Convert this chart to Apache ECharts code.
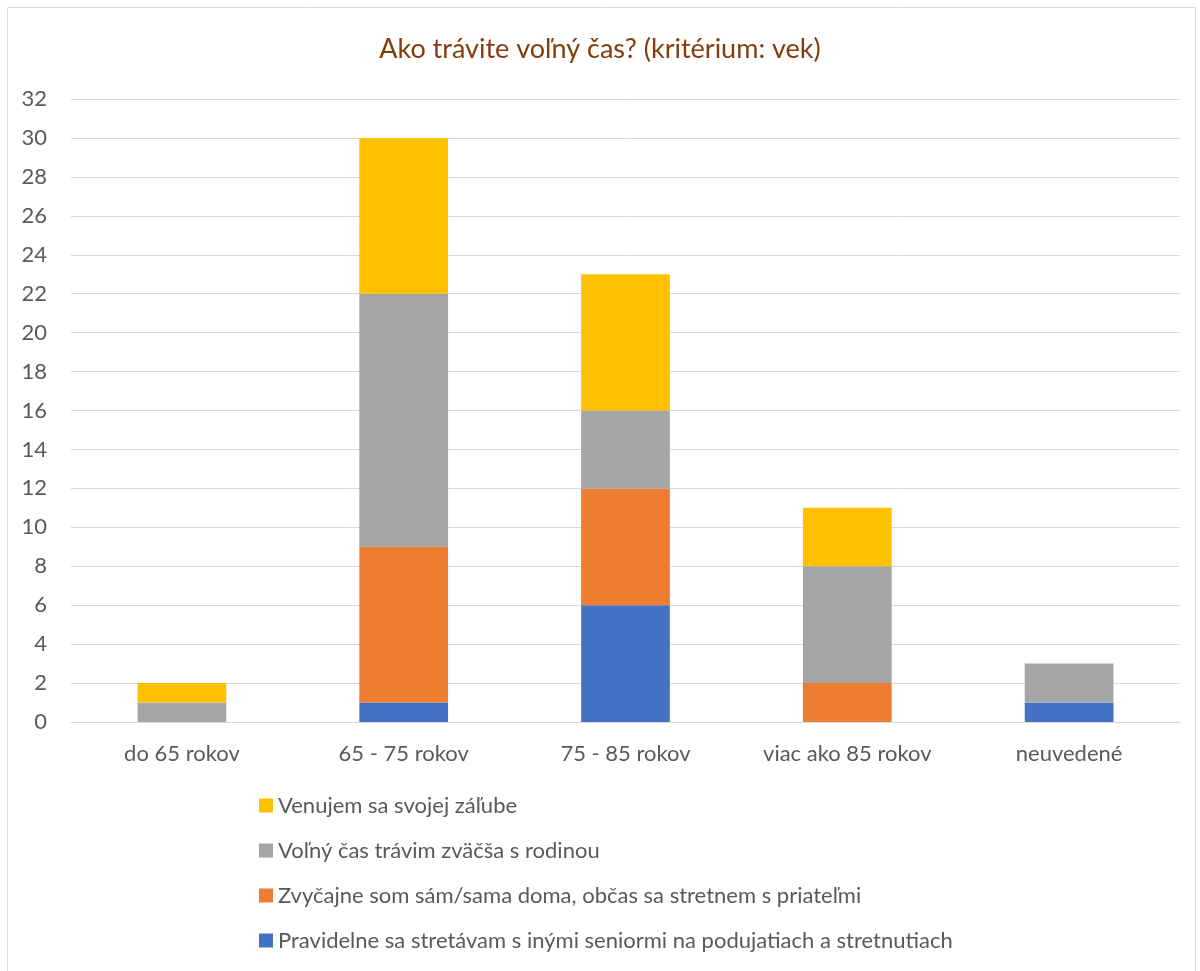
<!DOCTYPE html>
<html>
<head>
<meta charset="utf-8">
<script src="https://cdn.jsdelivr.net/npm/echarts@6/dist/echarts.min.js"></script>
<style>
  html, body { margin: 0; padding: 0; background: #fff; }
  #chart { width: 1200px; height: 971px; }
</style>
</head>
<body>
<div id="chart"></div>
<script>
var categories = ['do 65 rokov', '65 - 75 rokov', '75 - 85 rokov', 'viac ako 85 rokov', 'neuvedené']
var seriesNames = [
  'Pravidelne sa stretávam s inými seniormi na podujatiach a stretnutiach',
  'Zvyčajne som sám/sama doma, občas sa stretnem s priateľmi',
  'Voľný čas trávim zväčša s rodinou',
  'Venujem sa svojej záľube'
]
var blueVals = [0, 1, 6, 0, 1]
var orangeVals = [0, 8, 6, 2, 0]
var grayVals = [1, 13, 4, 6, 2]
var yellowVals = [1, 8, 7, 3, 0]
var colors = ['#4472C4', '#ED7D31', '#A5A5A5', '#FFC000']

var font = 'Lato'
var chart = echarts.init(document.getElementById('chart'))

function bar(name, data, color) {
  return {
    name: name,
    type: 'bar',
    stack: 'total',
    barWidth: '40%',
    data: data,
    itemStyle: { color: color }
  }
}

var option = {
  backgroundColor: '#fff',
  animation: false,
  graphic: [
    {
      type: 'rect',
      shape: { x: 7.5, y: 7.5, width: 1188, height: 980 },
      style: { fill: 'none', stroke: '#d9d9d9', lineWidth: 1 },
      silent: true
    }
  ],
  title: {
    text: 'Ako trávite voľný čas? (kritérium: vek)',
    left: 'center',
    top: 31,
    textStyle: { color: '#843C0C', fontFamily: font, fontSize: 27, fontWeight: 'normal' }
  },
  legend: {
    orient: 'vertical',
    left: 254,
    top: 788,
    itemWidth: 14,
    itemHeight: 14,
    itemGap: 20,
    icon: 'rect',
    data: [seriesNames[3], seriesNames[2], seriesNames[1], seriesNames[0]],
    textStyle: { color: '#595959', fontFamily: font, fontSize: 22, lineHeight: 25 }
  },
  grid: { left: 71, right: 20, top: 99, bottom: 249, containLabel: false },
  xAxis: {
    type: 'category',
    data: categories,
    axisLine: { show: true, lineStyle: { color: '#d9d9d9' } },
    axisTick: { show: false },
    axisLabel: { color: '#595959', fontFamily: font, fontSize: 22, margin: 21 }
  },
  yAxis: {
    type: 'value',
    min: 0,
    max: 32,
    interval: 2,
    axisLine: { show: false },
    axisTick: { show: false },
    splitLine: { lineStyle: { color: '#d9d9d9', width: 1 } },
    axisLabel: { color: '#595959', fontFamily: font, fontSize: 22, margin: 24 }
  },
  series: [
    bar(seriesNames[0], blueVals, colors[0]),
    bar(seriesNames[1], orangeVals, colors[1]),
    bar(seriesNames[2], grayVals, colors[2]),
    bar(seriesNames[3], yellowVals, colors[3])
  ]
}
chart.setOption(option)
</script>
</body>
</html>
